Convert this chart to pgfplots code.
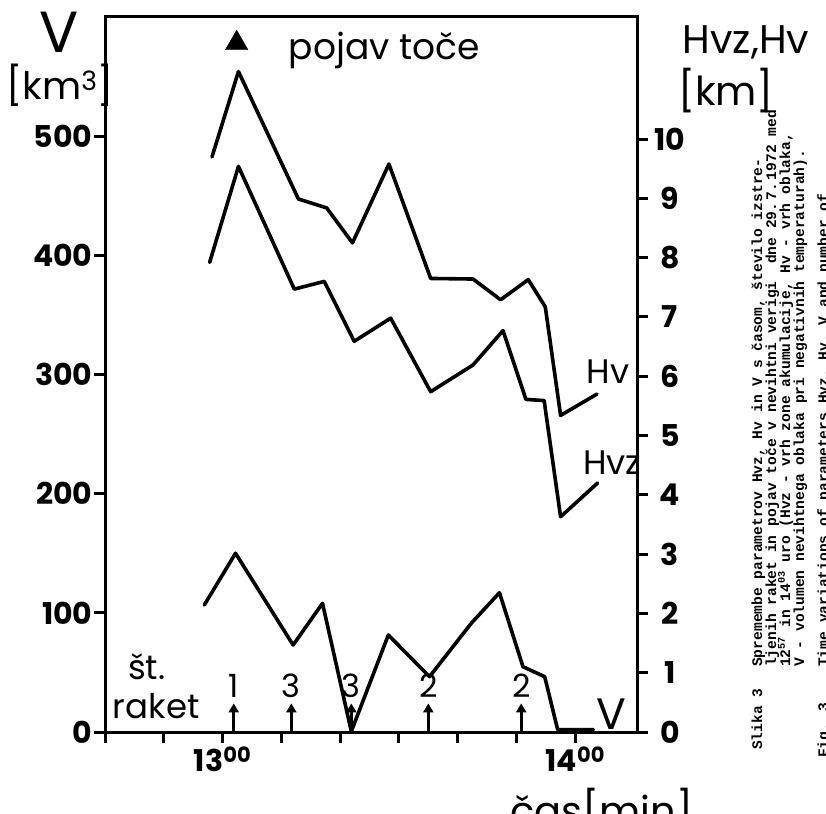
\documentclass[border=0pt]{standalone}
\usepackage{pgfplots}
\usepackage{pgfplotstable}
\pgfplotsset{compat=1.18}
\usetikzlibrary{arrows.meta}
\usepackage{fontspec}
\setmainfont{Poppins}
\newfontfamily\capfont{Liberation Mono}

\pgfplotstableread{
t V
56.9 106.6
62.2 150.0
72.0 73.0
77.0 108.0
81.9 0.5
88.2 81.4
95.2 46.4
102.3 91.2
107.1 116.9
111.1 54.8
114.8 46.4
117.0 2.0
123.1 2.0
}\Vdata

\pgfplotstableread{
t H
58.2 9.70
62.7 11.14
72.9 8.99
77.7 8.84
82.1 8.25
88.3 9.58
95.4 7.65
102.6 7.64
107.3 7.29
112.0 7.63
114.9 7.17
117.5 5.34
123.7 5.70
}\Hvdata

\pgfplotstableread{
t H
57.8 7.92
62.7 9.54
72.2 7.47
77.3 7.60
82.4 6.59
88.6 6.98
95.4 5.74
102.6 6.19
107.7 6.77
111.6 5.61
114.7 5.59
117.5 3.63
123.8 4.20
}\Hvzdata

\pgfplotstableread{
t y v ly n
61.9 0 24 39 1
71.7 0 24 39 3
81.9 0 24 39 3
95.0 0 24 39 2
110.8 0 24 39 2
}\Rockets

\begin{document}
\begin{tikzpicture}[x=1pt,y=1pt]
\useasboundingbox (0,0) rectangle (826,813);
\begin{axis}[
  at={(105pt,81pt)}, anchor=south west,
  width=532pt, height=715pt, scale only axis,
  xmin=40, xmax=130.5, ymin=0, ymax=600,
  axis line style={line width=3pt},
  xtick pos=bottom, ytick pos=left,
  tick align=outside,
  major tick length=11pt,
  every tick/.style={line width=3pt, black},
  xtick={40,50,...,120},
  xticklabels={,,13\textsuperscript{00},,,,,,14\textsuperscript{00}},
  ytick={0,100,...,500},
  yticklabels={0,100,200,300,400,500},
  ticklabel style={font=\fontsize{30}{32}\selectfont\bfseries},
  yticklabel style={xshift=2pt},
  /pgf/number format/assume math mode=true,
  clip=false,
]
\addplot[line width=3.6pt, line join=round, line cap=round] table[x=t,y=V] {\Vdata};
\addplot[line width=2.6pt, -{Triangle[width=10pt,length=9pt]}, quiver={u=0,v=\thisrow{v}}] table[x=t,y=y] {\Rockets};
\addplot[only marks, mark=none, nodes near coords, point meta=explicit symbolic,
  nodes near coords style={anchor=center, font=\fontsize{32}{34}\selectfont}]
  table[x=t, y=ly, meta=n] {\Rockets};
\addplot[only marks, mark=triangle*, mark size=13pt] coordinates {(62.4,578)};
\node[font=\fontsize{36}{38}\selectfont] at (axis cs:87.5,572) {pojav toče};
\node[font=\fontsize{34}{36}\selectfont] at (axis cs:47.1,55) {št.};
\node[font=\fontsize{34}{36}\selectfont] at (axis cs:48.7,22) {raket};
\node[font=\fontsize{34}{36}\selectfont] at (axis cs:125.6,302) {Hv};
\node[font=\fontsize{34}{36}\selectfont] at (axis cs:126.3,226) {Hvz};
\node[font=\fontsize{44}{46}\selectfont] at (axis cs:126.1,15) {V};
\end{axis}
\begin{axis}[
  at={(105pt,81pt)}, anchor=south west,
  width=532pt, height=715pt, scale only axis,
  xmin=40, xmax=130.5, ymin=0, ymax=12.06,
  axis x line=none, axis y line*=right,
  axis line style={line width=3pt, -},
  tick align=outside,
  major tick length=11pt,
  every tick/.style={line width=3pt, black},
  ytick={0,1,...,10},
  yticklabel style={font=\fontsize{30}{32}\selectfont\bfseries, anchor=center, xshift=22pt},
  /pgf/number format/assume math mode=true,
]
\addplot[line width=3.6pt, line join=round, line cap=round] table[x=t,y=H] {\Hvdata};
\addplot[line width=3.6pt, line join=round, line cap=round] table[x=t,y=H] {\Hvzdata};
\end{axis}
\node[font=\fontsize{58}{60}\selectfont] at (59,781) {V};
\node[font=\fontsize{38}{40}\selectfont] at (60,728) {[km\textsuperscript{3}]};
\node[font=\fontsize{40}{42}\selectfont] at (746,771) {Hvz,Hv};
\node[font=\fontsize{40}{42}\selectfont] at (726,722) {[km]};
\node[font=\fontsize{40}{42}\selectfont, anchor=base] at (602,-12) {čas[min]};
\begin{scope}[every node/.style={font=\capfont\fontsize{14.6}{16}\selectfont\bfseries, rotate=90, anchor=base west, inner sep=0pt}]
\node at (762,63) {Slika 3};
\node at (762,146) {Spremembe parametrov Hvz, Hv in V s časom, število izstre-};
\node at (776,146) {ljenih raket in pojav toče v nevihtni verigi\ \ dne 29.\,7.\,1972 med};
\node at (790,146) {12\textsuperscript{57} in 14\textsuperscript{03} uro (Hvz - vrh zone akumulacije, Hv - vrh oblaka,};
\node at (804,146) {V - volumen nevihtnega oblaka pri negativnih temperaturah).};
\node at (828,55) {Fig. 3};
\node at (828,146) {Time variations of parameters Hvz, Hv, V and number of};
\end{scope}
\end{tikzpicture}
\end{document}
